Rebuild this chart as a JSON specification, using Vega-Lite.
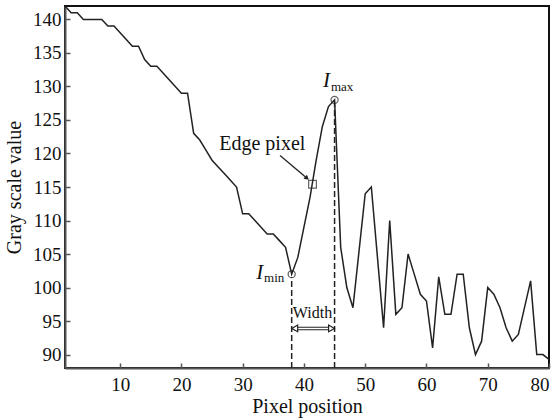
{
  "$schema": "https://vega.github.io/schema/vega-lite/v6.json",
  "width": 484,
  "height": 362,
  "autosize": "none",
  "padding": {"left": 65, "top": 6, "right": 10, "bottom": 52},
  "background": "white",
  "config": {
    "view": {"stroke": "#111", "strokeWidth": 2},
    "font": "Liberation Serif",
    "axis": {
      "grid": false,
      "domainColor": "#555",
      "domainWidth": 2,
      "tickColor": "#555",
      "tickWidth": 1.5,
      "tickSize": -5,
      "labelFont": "Liberation Serif",
      "labelFontSize": 19,
      "labelColor": "#111",
      "titleFont": "Liberation Serif",
      "titleFontSize": 20,
      "titleFontWeight": "normal",
      "titleColor": "#111"
    }
  },
  "datasets": {
    "profile": [
      {"pos": 1, "gray": 142}, {"pos": 2, "gray": 141}, {"pos": 3, "gray": 141}, {"pos": 4, "gray": 140},
      {"pos": 5, "gray": 140}, {"pos": 6, "gray": 140}, {"pos": 7, "gray": 140}, {"pos": 8, "gray": 139},
      {"pos": 9, "gray": 139}, {"pos": 10, "gray": 138}, {"pos": 11, "gray": 137}, {"pos": 12, "gray": 136},
      {"pos": 13, "gray": 136}, {"pos": 14, "gray": 134}, {"pos": 15, "gray": 133}, {"pos": 16, "gray": 133},
      {"pos": 17, "gray": 132}, {"pos": 18, "gray": 131}, {"pos": 19, "gray": 130}, {"pos": 20, "gray": 129},
      {"pos": 21, "gray": 129}, {"pos": 22, "gray": 123}, {"pos": 23, "gray": 122}, {"pos": 24, "gray": 120.5},
      {"pos": 25, "gray": 119}, {"pos": 26, "gray": 118}, {"pos": 27, "gray": 117}, {"pos": 28, "gray": 116},
      {"pos": 29, "gray": 115}, {"pos": 30, "gray": 111}, {"pos": 31, "gray": 111}, {"pos": 32, "gray": 110},
      {"pos": 33, "gray": 109}, {"pos": 34, "gray": 108}, {"pos": 35, "gray": 108}, {"pos": 36, "gray": 107},
      {"pos": 37, "gray": 106}, {"pos": 38, "gray": 102}, {"pos": 39, "gray": 104.5}, {"pos": 40, "gray": 109},
      {"pos": 41, "gray": 113.5}, {"pos": 42, "gray": 119}, {"pos": 43, "gray": 124}, {"pos": 44, "gray": 127},
      {"pos": 45, "gray": 128}, {"pos": 46, "gray": 106}, {"pos": 47, "gray": 100}, {"pos": 48, "gray": 97},
      {"pos": 49, "gray": 105.5}, {"pos": 50, "gray": 114}, {"pos": 51, "gray": 115}, {"pos": 52, "gray": 104.5},
      {"pos": 53, "gray": 94}, {"pos": 54, "gray": 110}, {"pos": 55, "gray": 96}, {"pos": 56, "gray": 97},
      {"pos": 57, "gray": 105}, {"pos": 58, "gray": 102}, {"pos": 59, "gray": 99}, {"pos": 60, "gray": 98},
      {"pos": 61, "gray": 91}, {"pos": 62, "gray": 101.6}, {"pos": 63, "gray": 96}, {"pos": 64, "gray": 96},
      {"pos": 65, "gray": 102}, {"pos": 66, "gray": 102}, {"pos": 67, "gray": 94}, {"pos": 68, "gray": 90},
      {"pos": 69, "gray": 92}, {"pos": 70, "gray": 100}, {"pos": 71, "gray": 99}, {"pos": 72, "gray": 97},
      {"pos": 73, "gray": 94}, {"pos": 74, "gray": 92}, {"pos": 75, "gray": 93}, {"pos": 76, "gray": 97},
      {"pos": 77, "gray": 101}, {"pos": 78, "gray": 90}, {"pos": 79, "gray": 90}, {"pos": 80, "gray": 89.3}
    ],
    "dashes": [
      {"pos": 38, "lo": 88, "hi": 101.5},
      {"pos": 45, "lo": 88, "hi": 127.5}
    ],
    "extremes": [
      {"pos": 38, "gray": 102},
      {"pos": 45, "gray": 128}
    ],
    "edge": [
      {"pos": 41.4, "gray": 115.4}
    ],
    "edgeArrow": [
      {"pos": 36.1, "gray": 119.7, "pos2": 40.5, "gray2": 116.3}
    ],
    "edgeHead": [
      {"pos": 40.5, "gray": 116.3}
    ],
    "widthArrow": [
      {"pos": 38.4, "pos2": 44.6, "gray": 93.9}
    ],
    "widthHeads": [
      {"pos": 38.5, "gray": 93.9, "dir": "triangle-left"},
      {"pos": 44.5, "gray": 93.9, "dir": "triangle-right"}
    ],
    "bigLabels": [
      {"pos": 33.2, "gray": 120.5, "label": "Edge pixel"}
    ],
    "widthLabel": [
      {"pos": 41.4, "gray": 95.4, "label": "Width"}
    ],
    "italicI": [
      {"pos": 43.7, "gray": 129.85, "label": "I"},
      {"pos": 32.8, "gray": 101.3, "label": "I"}
    ],
    "subs": [
      {"pos": 44.4, "gray": 129.3, "label": "max"},
      {"pos": 33.5, "gray": 100.8, "label": "min"}
    ]
  },
  "layer": [
    {
      "data": {"name": "profile"},
      "mark": {"type": "line", "color": "#222", "strokeWidth": 1.5},
      "encoding": {
        "x": {
          "field": "pos", "type": "quantitative",
          "scale": {"domain": [1, 80], "nice": false, "zero": false},
          "axis": {"values": [10, 20, 30, 40, 50, 60, 70, 80], "title": "Pixel position", "labelPadding": 12, "titlePadding": 2, "labelOverlap": false}
        },
        "y": {
          "field": "gray", "type": "quantitative",
          "scale": {"domain": [88, 142], "nice": false, "zero": false},
          "axis": {"values": [90, 95, 100, 105, 110, 115, 120, 125, 130, 135, 140], "title": "Gray scale value", "labelPadding": 9, "titlePadding": 8, "labelOverlap": false, "tickCount": 11}
        }
      }
    },
    {
      "data": {"name": "dashes"},
      "mark": {"type": "rule", "color": "#222", "strokeWidth": 1.5, "strokeDash": [6, 3]},
      "encoding": {
        "x": {"field": "pos", "type": "quantitative"},
        "y": {"field": "lo", "type": "quantitative"},
        "y2": {"field": "hi"}
      }
    },
    {
      "data": {"name": "extremes"},
      "mark": {"type": "point", "shape": "circle", "size": 50, "color": "#222", "strokeWidth": 1.3, "filled": false},
      "encoding": {
        "x": {"field": "pos", "type": "quantitative"},
        "y": {"field": "gray", "type": "quantitative"}
      }
    },
    {
      "data": {"name": "edge"},
      "mark": {"type": "point", "shape": "square", "size": 60, "color": "#222", "strokeWidth": 1.2, "filled": false},
      "encoding": {
        "x": {"field": "pos", "type": "quantitative"},
        "y": {"field": "gray", "type": "quantitative"}
      }
    },
    {
      "data": {"name": "edgeArrow"},
      "mark": {"type": "rule", "color": "#222", "strokeWidth": 1.3},
      "encoding": {
        "x": {"field": "pos", "type": "quantitative"},
        "y": {"field": "gray", "type": "quantitative"},
        "x2": {"field": "pos2"},
        "y2": {"field": "gray2"}
      }
    },
    {
      "data": {"name": "edgeHead"},
      "mark": {"type": "point", "shape": "triangle-right", "size": 30, "angle": 41, "filled": true, "color": "#222", "opacity": 1},
      "encoding": {
        "x": {"field": "pos", "type": "quantitative"},
        "y": {"field": "gray", "type": "quantitative"}
      }
    },
    {
      "data": {"name": "widthArrow"},
      "mark": {"type": "rule", "color": "#222", "strokeWidth": 3.5},
      "encoding": {
        "x": {"field": "pos", "type": "quantitative"},
        "x2": {"field": "pos2"},
        "y": {"field": "gray", "type": "quantitative"}
      }
    },
    {
      "data": {"name": "widthArrow"},
      "mark": {"type": "rule", "color": "white", "strokeWidth": 1.5},
      "encoding": {
        "x": {"field": "pos", "type": "quantitative"},
        "x2": {"field": "pos2"},
        "y": {"field": "gray", "type": "quantitative"}
      }
    },
    {
      "data": {"name": "widthHeads"},
      "mark": {"type": "point", "size": 45, "filled": true, "fill": "white", "stroke": "#222", "strokeWidth": 1.2, "opacity": 1},
      "encoding": {
        "x": {"field": "pos", "type": "quantitative"},
        "y": {"field": "gray", "type": "quantitative"},
        "shape": {"field": "dir", "type": "nominal", "scale": null, "legend": null}
      }
    },
    {
      "data": {"name": "bigLabels"},
      "mark": {"type": "text", "font": "Liberation Serif", "fontSize": 20, "align": "center", "baseline": "alphabetic", "color": "#111"},
      "encoding": {
        "x": {"field": "pos", "type": "quantitative"},
        "y": {"field": "gray", "type": "quantitative"},
        "text": {"field": "label"}
      }
    },
    {
      "data": {"name": "widthLabel"},
      "mark": {"type": "text", "font": "Liberation Serif", "fontSize": 16, "align": "center", "baseline": "alphabetic", "color": "#111"},
      "encoding": {
        "x": {"field": "pos", "type": "quantitative"},
        "y": {"field": "gray", "type": "quantitative"},
        "text": {"field": "label"}
      }
    },
    {
      "data": {"name": "italicI"},
      "mark": {"type": "text", "font": "Liberation Serif", "fontSize": 21, "fontStyle": "italic", "align": "center", "baseline": "alphabetic", "color": "#111"},
      "encoding": {
        "x": {"field": "pos", "type": "quantitative"},
        "y": {"field": "gray", "type": "quantitative"},
        "text": {"field": "label"}
      }
    },
    {
      "data": {"name": "subs"},
      "mark": {"type": "text", "font": "Liberation Serif", "fontSize": 13, "align": "left", "baseline": "alphabetic", "color": "#111"},
      "encoding": {
        "x": {"field": "pos", "type": "quantitative"},
        "y": {"field": "gray", "type": "quantitative"},
        "text": {"field": "label"}
      }
    }
  ]
}
